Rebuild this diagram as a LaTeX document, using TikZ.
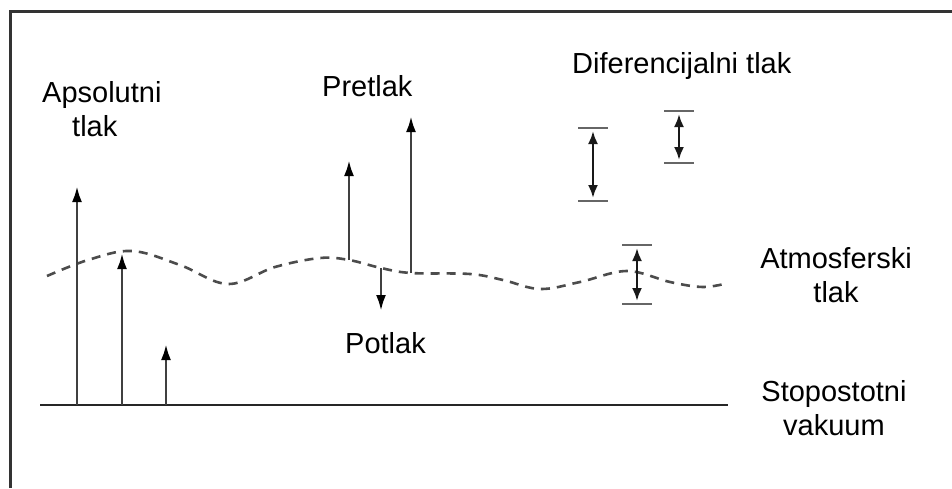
\documentclass[tikz,border=0pt]{standalone}
\usepackage{fontspec}
\setmainfont{Liberation Sans}
\usetikzlibrary{arrows.meta}
\begin{document}
\begin{tikzpicture}[x=1pt,y=-1pt,
  frameline/.style={draw=black!80, line width=2.8pt},
  ground/.style={draw=black!85, line width=2.8pt},
  wave/.style={draw=black!70, line width=2.6pt, dash pattern=on 9pt off 7pt},
  uparrow/.style={draw=black!75, line width=2.8pt, -{Latex[length=16pt,width=10pt,color=black]}},
  capline/.style={draw=black!60, line width=2.4pt},
  dbl/.style={draw=black!90, line width=2.4pt, shorten <=3pt, shorten >=3pt,
    {Latex[length=13pt,width=10pt]}-{Latex[length=13pt,width=10pt]}},
  lbl/.style={font=\fontsize{29}{34}\selectfont, inner sep=0pt, text=black}
]
\useasboundingbox (0,0) rectangle (952,488);
\fill[white] (0,0) rectangle (952,488);
% frame (open at right and bottom)
\coordinate (fbl) at (10.5,488);
\coordinate (ftl) at (10.5,11.5);
\coordinate (ftr) at (952,11.5);
\draw[frameline] (fbl) -- (ftl) -- (ftr);

% ground line (perfect vacuum)
\coordinate (g0) at (40,405);
\coordinate (g1) at (728,405);
\draw[ground] (g0) -- (g1);

% atmospheric pressure wave
\draw[wave] plot[smooth, tension=0.6] coordinates {
  (47,276) (88,260) (132,251) (180,265) (228,284) (275,267) (320,258)
  (349,260) (381,268) (411,273) (470,274) (503,280) (540,289) (580,282)
  (627,271) (670,282) (703,287) (728,283)};

% absolute pressure arrows
\coordinate (a1b) at (77,405);  \coordinate (a1t) at (77,186);
\coordinate (a2b) at (122,405); \coordinate (a2t) at (122,253);
\coordinate (a3b) at (166,405); \coordinate (a3t) at (166,344);
\draw[uparrow] (a1b) -- (a1t);
\draw[uparrow] (a2b) -- (a2t);
\draw[uparrow] (a3b) -- (a3t);

% overpressure arrows
\coordinate (p1b) at (349,260); \coordinate (p1t) at (349,160);
\coordinate (p2b) at (411,273); \coordinate (p2t) at (411,116);
\draw[uparrow] (p1b) -- (p1t);
\draw[uparrow] (p2b) -- (p2t);

% underpressure arrow
\coordinate (ub) at (381,268); \coordinate (ut) at (381,311);
\draw[uparrow] (ub) -- (ut);

% differential pressure bars
\foreach \n/\x/\ya/\yb in {A/593/128/201, B/679/111/163, C/637/245/304}{
  \coordinate (\n t) at (\x,\ya);
  \coordinate (\n b) at (\x,\yb);
  \draw[capline] ([xshift=-15pt]\n t) -- ([xshift=15pt]\n t);
  \draw[capline] ([xshift=-15pt]\n b) -- ([xshift=15pt]\n b);
  \draw[dbl] (\n t) -- (\n b);
}

% labels
\node[lbl, anchor=north west, align=left] (apso) at (42,81) {Apsolutni\\\hspace*{30pt}tlak};
\node[lbl, anchor=base west] (pret) at (322,96) {Pretlak};
\node[lbl, anchor=base west] (diff) at (572,73) {Diferencijalni tlak};
\node[lbl, anchor=base west] (potl) at (345,353) {Potlak};
\node[lbl, anchor=north, align=center] (atmo) at (836,247) {Atmosferski\\tlak};
\node[lbl, anchor=north, align=center] (vac) at (834,380) {Stopostotni\\vakuum};
\end{tikzpicture}
\end{document}
